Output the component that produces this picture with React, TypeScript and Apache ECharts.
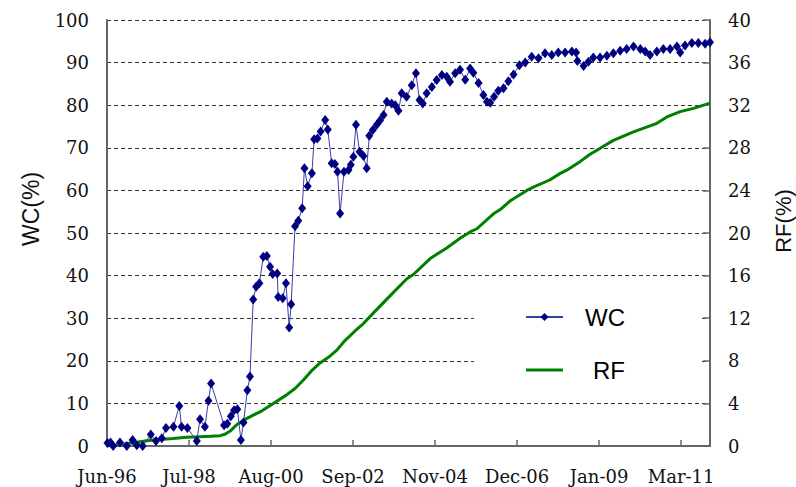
import React, { useEffect, useRef } from 'react';
import * as echarts from 'echarts';

// x positions are months counted from Jun-96
const xLabels = ['Jun-96', 'Jul-98', 'Aug-00', 'Sep-02', 'Nov-04', 'Dec-06', 'Jan-09', 'Mar-11'];
const X_STEP = 25.3;
const X_MAX = 186;

const wcMonths = [
  0.15, 1.1, 1.9, 4.0, 6.1, 7.9, 9.2, 11.0, 13.5, 15.1, 16.9, 18.2, 20.5, 22.3, 23.0, 24.8,
  27.7, 28.7, 30.2, 31.3, 32.1, 36.1, 37.1, 38.2, 39.2, 40.2, 41.3, 42.1, 43.3, 44.1, 45.1,
  46.0, 47.0, 48.2, 49.3, 50.3, 51.1, 52.5, 52.8, 54.2, 55.2, 56.2, 56.8, 58.0, 59.0, 60.2,
  60.9, 61.9, 63.2, 63.9, 64.9, 65.9, 67.3, 68.1, 69.3, 70.3, 71.1, 71.9, 73.1, 74.5, 75.2,
  76.0, 76.8, 77.9, 79.1, 80.1, 80.9, 82.0, 83.2, 84.2, 85.3, 86.3, 87.8, 88.9, 89.9, 90.9,
  92.4, 94.0, 95.3, 96.4, 97.4, 98.6, 100.2, 101.7, 103.3, 104.8, 105.8, 107.4, 108.9, 110.5,
  112.0, 113.0, 114.6, 116.1, 117.2, 118.2, 119.4, 120.7, 122.3, 123.8, 125.4, 127.2, 129.0,
  131.0, 133.1, 135.1, 137.2, 139.2, 141.3, 143.4, 144.7, 145.1, 147.0, 148.5, 150.0, 152.1,
  154.2, 156.2, 158.3, 160.3, 162.4, 164.5, 166.0, 167.5, 169.6, 171.6, 173.7, 175.8, 176.8,
  178.3, 180.4, 182.4, 184.5, 186.0,
];
const wcValues = [
  0.7, 0.8, 0.0, 0.8, 0.0, 1.4, 0.2, 0.0, 2.7, 1.2, 1.8, 4.2, 4.5, 9.4, 4.5, 4.2,
  1.2, 6.3, 4.5, 10.6, 14.7, 4.9, 5.2, 7.0, 8.4, 8.6, 1.4, 5.5, 13.1, 16.3, 34.4,
  37.4, 38.2, 44.4, 44.6, 42.1, 40.4, 40.5, 35.0, 34.7, 38.2, 27.8, 33.3, 51.6, 52.9, 55.8,
  65.2, 61.0, 64.0, 72.0, 72.2, 73.8, 76.5, 74.3, 66.4, 66.2, 64.4, 54.6, 64.4, 64.8, 66.0,
  67.9, 75.4, 69.1, 68.1, 65.2, 72.8, 74.2, 75.4, 76.4, 77.7, 80.8, 80.4, 80.0, 78.7, 82.8,
  82.0, 84.7, 87.5, 81.2, 80.4, 82.8, 84.3, 85.9, 87.1, 86.7, 85.5, 87.5, 88.3, 86.0,
  88.6, 87.6, 85.2, 82.4, 80.8, 80.6, 82.0, 83.4, 84.0, 85.6, 87.2, 89.4, 90.0,
  91.4, 91.0, 92.2, 91.8, 92.4, 92.4, 92.6, 92.4, 90.4, 89.2, 90.2, 91.2, 91.2,
  91.6, 92.2, 92.8, 93.2, 93.8, 93.2, 92.6, 91.8, 92.6, 93.2, 93.2, 93.8, 92.4,
  94.0, 94.6, 94.6, 94.4, 94.8,
];

const rfMonths = [
  0, 4.0, 8.1, 12.2, 16.4, 20.4, 24.6, 28.7, 31.8, 34.9, 36.4, 38.0, 40.0, 42.6, 45.1, 47.8,
  51.3, 55.4, 58.0, 60.6, 62.9, 65.7, 68.2, 70.9, 73.4, 76.5, 79.1, 82.2, 87.3, 92.5, 94.5,
  99.7, 102.7, 104.8, 108.9, 112.0, 114.1, 119.2, 121.3, 124.3, 129.5, 131.5, 136.7, 139.8,
  141.8, 145.9, 149.0, 152.1, 156.2, 162.4, 169.6, 172.7, 176.8, 180.9, 186.0,
];
const rfValues = [
  0, 0.15, 0.3, 0.5, 0.6, 0.7, 0.82, 0.88, 0.92, 0.97, 1.1, 1.4, 2.0, 2.5, 2.9, 3.3,
  4.0, 4.8, 5.4, 6.2, 7.0, 7.8, 8.3, 9.0, 9.9, 10.8, 11.5, 12.5, 14.1, 15.7, 16.1,
  17.6, 18.2, 18.6, 19.5, 20.1, 20.4, 21.8, 22.2, 23.0, 24.0, 24.3, 25.0, 25.6,
  25.9, 26.7, 27.4, 27.95, 28.7, 29.5, 30.3, 30.9, 31.4, 31.7, 32.2,
];

const serif = 'DejaVu Serif';
const sans = 'Liberation Sans';

export default function App() {
  const ref = useRef<HTMLDivElement>(null);
  useEffect(() => {
    const chart = echarts.init(ref.current!, null, { renderer: 'svg' });
    const wcData = wcMonths.map((m, i) => [m, wcValues[i]]);
    const rfData = rfMonths.map((m, i) => [m, rfValues[i]]);
    const axisLine = { show: true, lineStyle: { color: '#666', width: 2 } };
    const labelStyle = { fontFamily: serif, fontSize: 18, color: '#111' };
    chart.setOption({
      animation: false,
      backgroundColor: '#fff',
      grid: { left: 107, right: 86, top: 20, bottom: 41, containLabel: false },
      xAxis: {
        type: 'value',
        min: 0,
        max: X_MAX,
        interval: X_STEP,
        axisLine,
        axisTick: { show: true, inside: true, length: 6, lineStyle: { color: '#666', width: 1.5 } },
        splitLine: { show: false },
        axisLabel: {
          ...labelStyle,
          margin: 21,
          formatter: (v: number) => {
            const i = Math.round(v / X_STEP);
            return Math.abs(v - i * X_STEP) < 0.01 && i < xLabels.length ? xLabels[i] : '';
          },
        },
      },
      yAxis: [
        {
          type: 'value',
          min: 0,
          max: 100,
          interval: 10,
          axisLine,
          axisTick: { show: false },
          splitLine: { show: true, lineStyle: { color: '#333', type: [4, 3], width: 1 } },
          axisLabel: { ...labelStyle, margin: 18 },
        },
        {
          type: 'value',
          min: 0,
          max: 40,
          interval: 4,
          position: 'right',
          axisLine,
          axisTick: { show: true, inside: true, length: 7, lineStyle: { color: '#666', width: 1.5 } },
          splitLine: { show: false },
          axisLabel: { ...labelStyle, margin: 18 },
        },
      ],
      legend: {
        orient: 'vertical',
        left: 525,
        top: 305,
        padding: 0,
        itemWidth: 37,
        itemHeight: 10,
        itemGap: 29,
        textStyle: { fontFamily: sans, fontSize: 24, color: '#000' },
        data: [
          { name: 'WC', textStyle: { padding: [0, 0, 0, 17] } },
          { name: 'RF', icon: 'path://M0,0L40,0L40,3L0,3Z', textStyle: { padding: [0, 0, 0, 25] } },
        ],
        z: 5,
      },
      graphic: [
        {
          type: 'rect',
          z: 1,
          shape: { x: 474, y: 283, width: 227, height: 112 },
          style: { fill: '#fff' },
        },
        {
          type: 'text',
          x: 31,
          y: 209,
          rotation: Math.PI / 2,
          style: { text: 'WC(%)', fontFamily: sans, fontSize: 23, fill: '#111', align: 'center', verticalAlign: 'middle' },
        },
        {
          type: 'text',
          x: 783,
          y: 221,
          rotation: Math.PI / 2,
          style: { text: 'RF(%)', fontFamily: sans, fontSize: 22, fill: '#111', align: 'center', verticalAlign: 'middle' },
        },
      ],
      series: [
        {
          name: 'WC',
          type: 'line',
          yAxisIndex: 0,
          data: wcData,
          showSymbol: true,
          showAllSymbol: true,
          symbol: 'diamond',
          symbolSize: [8, 10],
          itemStyle: { color: '#000080' },
          lineStyle: { color: '#3c3ca8', width: 1 },
          z: 3,
        },
        {
          name: 'RF',
          type: 'line',
          yAxisIndex: 1,
          data: rfData,
          showSymbol: false,
          symbol: 'none',
          itemStyle: { color: '#008000' },
          lineStyle: { color: '#008000', width: 3 },
          z: 2,
        },
      ],
    });
    return () => chart.dispose();
  }, []);
  return (
    <div
      ref={ref}
      style={{ position: 'fixed', left: 0, top: 0, width: 796, height: 487, background: '#fff' }}
    />
  );
}
